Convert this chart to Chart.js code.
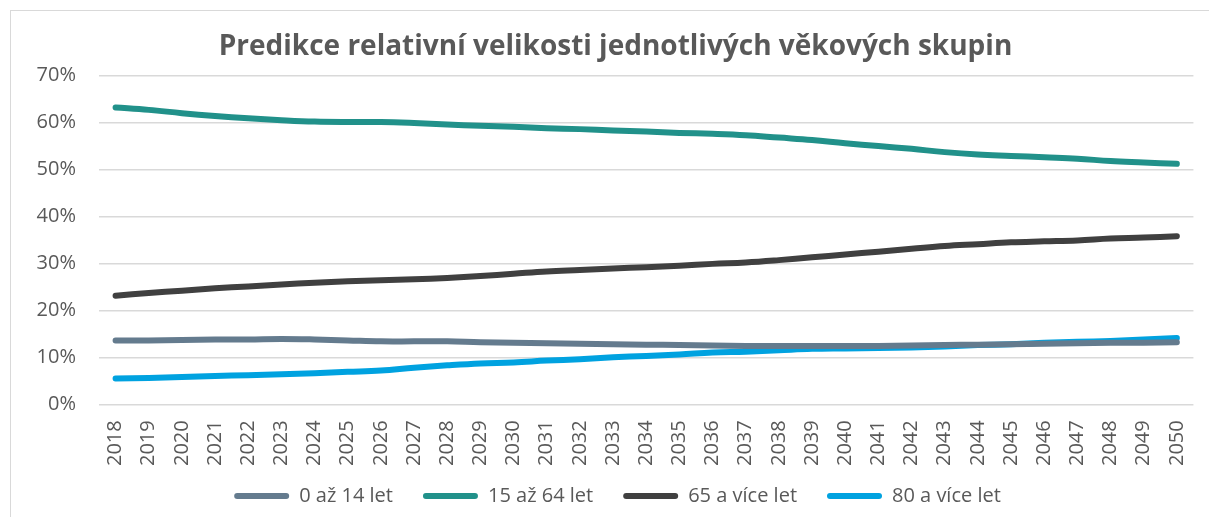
<!DOCTYPE html>
<html>
<head>
<meta charset="utf-8">
<script src="https://cdn.jsdelivr.net/npm/chart.js@4.4.0/dist/chart.umd.min.js"></script>
<style>
  html, body { margin: 0; padding: 0; background: #fff; }
  #wrap { position: relative; width: 1209px; height: 517px; }
</style>
</head>
<body>
<div id="wrap"><canvas id="chart" width="1209" height="517"></canvas></div>
<script>
const years = [];
for (let y = 2018; y <= 2050; y++) years.push(String(y));

const kids = [13.6, 13.6, 13.7, 13.8, 13.8, 13.9, 13.8, 13.6, 13.4, 13.4, 13.4, 13.2, 13.1, 13.0, 12.9, 12.8, 12.7,
              12.6, 12.5, 12.4, 12.4, 12.4, 12.4, 12.4, 12.5, 12.6, 12.7, 12.8, 12.9, 13.0, 13.1, 13.1, 13.2];
const working = [63.2, 62.7, 62.0, 61.4, 60.9, 60.5, 60.2, 60.1, 60.1, 59.9, 59.6, 59.3, 59.1, 58.8, 58.6, 58.3, 58.1,
                 57.8, 57.6, 57.3, 56.8, 56.3, 55.6, 55.0, 54.4, 53.7, 53.2, 52.9, 52.6, 52.3, 51.8, 51.5, 51.2];
const seniors = [23.1, 23.7, 24.2, 24.7, 25.1, 25.5, 25.9, 26.2, 26.4, 26.6, 26.9, 27.3, 27.8, 28.3, 28.6, 28.9, 29.2,
                 29.5, 29.9, 30.2, 30.7, 31.3, 31.9, 32.5, 33.1, 33.7, 34.1, 34.5, 34.7, 34.9, 35.3, 35.5, 35.8];
const elderly = [5.5, 5.6, 5.8, 6.0, 6.2, 6.4, 6.6, 6.9, 7.2, 7.8, 8.3, 8.7, 8.9, 9.3, 9.6, 10.0, 10.3,
                 10.6, 11.0, 11.2, 11.5, 11.8, 11.9, 12.0, 12.1, 12.3, 12.6, 12.8, 13.1, 13.3, 13.5, 13.8, 14.1];

const seriesNames = ['0 až 14 let', '15 až 64 let', '65 a více let', '80 a více let'];
const seriesColors = ['#647b8e', '#21918a', '#404040', '#00a2e0'];
const yTicks = [0, 10, 20, 30, 40, 50, 60, 70];

const FONT = "'Open Sans', sans-serif";
const GREY = '#595959';

// light frame around the whole chart, and small nudges of title / legend
const framePlugin = {
    id: 'frame',
    afterLayout(chart) {
        if (chart.titleBlock) {
            chart.titleBlock.left += 11;
            chart.titleBlock.right += 11;
        }
        if (chart.legend) {
            chart.legend.left += 13;
            chart.legend.right += 13;
            chart.legend.top -= 18;
            chart.legend.bottom -= 18;
        }
    },
    beforeDraw(chart) {
        const c = chart.ctx;
        c.save();
        c.strokeStyle = '#d9d9d9';
        c.lineWidth = 1;
        c.strokeRect(10.5, 10.5, 1210, 520);
        c.restore();
    }
};

function makeSet(i, data) {
    return {
        label: seriesNames[i],
        data: data,
        borderColor: seriesColors[i],
        backgroundColor: seriesColors[i],
        borderWidth: 6,
        borderCapStyle: 'round',
        borderJoinStyle: 'round',
        pointRadius: 0,
        tension: 0.4,
        fill: false
    };
}

const ctx = document.getElementById('chart').getContext('2d');

const chart = new Chart(ctx, {
    type: 'line',
    data: {
        labels: years,
        datasets: [makeSet(0, kids), makeSet(1, working), makeSet(2, seniors), makeSet(3, elderly)]
    },
    options: {
        responsive: false,
        animation: false,
        layout: { padding: { left: 10, right: 10, top: 30, bottom: -17 } },
        plugins: {
            title: {
                display: true,
                text: 'Predikce relativní velikosti jednotlivých věkových skupin',
                color: GREY,
                font: { family: FONT, size: 28, weight: 'bold' },
                padding: { top: 0, bottom: 12 }
            },
            legend: {
                position: 'bottom',
                labels: {
                    color: GREY,
                    font: { family: FONT, size: 20 },
                    boxWidth: 55,
                    boxHeight: 6,
                    useBorderRadius: true,
                    borderRadius: 3,
                    padding: 30,
                    generateLabels(ch) {
                        const items = Chart.defaults.plugins.legend.labels.generateLabels(ch);
                        items.forEach(it => { it.lineWidth = 0; });
                        return items;
                    }
                }
            },
            tooltip: { enabled: false }
        },
        scales: {
            x: {
                offset: true,
                grid: { display: false },
                border: { display: false },
                ticks: {
                    color: GREY,
                    font: { family: FONT, size: 20 },
                    minRotation: 90,
                    maxRotation: 90,
                    autoSkip: false,
                    padding: 8
                }
            },
            y: {
                min: 0,
                max: 70,
                afterFit(scale) { scale.width = 89; },
                afterBuildTicks(scale) { scale.ticks = yTicks.map(v => ({ value: v })); },
                grid: { color: '#d9d9d9', lineWidth: 1.5, drawTicks: false },
                border: { display: false },
                ticks: {
                    color: GREY,
                    font: { family: FONT, size: 20 },
                    padding: 23,
                    callback: v => v + '%'
                }
            }
        }
    },
    plugins: [framePlugin]
});
</script>
</body>
</html>
